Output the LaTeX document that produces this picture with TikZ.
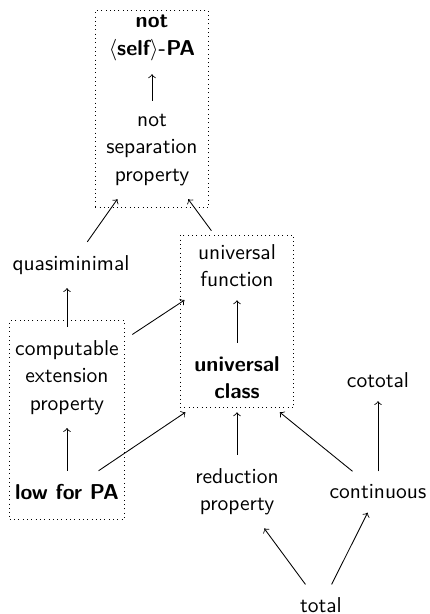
\documentclass[tikz,border=0pt]{standalone}
\usepackage{amsmath}
\usepackage{tikz}
\usetikzlibrary{fit}
\tikzstyle{prop} = [align=center, inner sep=3.3pt, outer sep=3pt, font=\sffamily\fontsize{10}{12.7}\selectfont]
\tikzstyle{strongprop} = [prop, font=\sffamily\bfseries\fontsize{10}{12.7}\selectfont]
\tikzstyle{group} = [draw, dash pattern=on 0.4pt off 1.6pt, inner sep=0pt]
\tikzstyle{arrow} = [->]

\begin{document}
\begin{tikzpicture}[x=0.465pt, y=-0.465pt]
\useasboundingbox (0,0) rectangle (430,614);
\node (notpa) [strongprop] at (152,38) {not\\$\langle$self$\rangle$-PA};
\node (nosep) [prop] at (152,150) {not\\separation\\property};
\node (quasimin) [prop] at (71,265) {quasiminimal};
\node (unifun) [prop] at (237,265.5) {universal\\function};
\node (uniclass) [strongprop] at (237,377.5) {universal\\class};
\node (compext) [prop] at (67,377.5) {computable\\extension\\property};
\node (lowpa) [strongprop] at (67,492) {low for PA};
\node (cototal) [prop] at (378,380) {cototal};
\node (reduct) [prop] at (237,491.5) {reduction\\property};
\node (contin) [prop] at (378,492) {continuous};
\node (total) [prop] at (321,605.5) {total};
\node (topgroup) [group, fit=(notpa)(nosep), inner xsep=-1.15pt, yshift=-4pt] {};
\node (unigroup) [group, fit=(unifun)(uniclass), inner xsep=0.3pt, inner ysep=-2.1pt] {};
\node (compgroup) [group, fit=(compext)(lowpa), inner xsep=-3.85pt, inner ysep=3pt] {};
\draw [arrow] (nosep) -- (notpa);
\draw [arrow] (quasimin) -- (nosep);
\draw [arrow] (unifun) -- (nosep);
\draw [arrow] (compext) -- (compext |- quasimin.south);
\draw [arrow] (compext) -- (unifun);
\draw [arrow] (uniclass) -- (unifun);
\draw [arrow] (lowpa) -- (compext);
\draw [arrow] (lowpa) -- (uniclass);
\draw [arrow] (reduct) -- (uniclass);
\draw [arrow] (contin) -- (uniclass);
\draw [arrow] (contin) -- (cototal);
\draw [arrow] (total) -- (reduct);
\draw [arrow] (total) -- (contin);
\end{tikzpicture}
\end{document}
